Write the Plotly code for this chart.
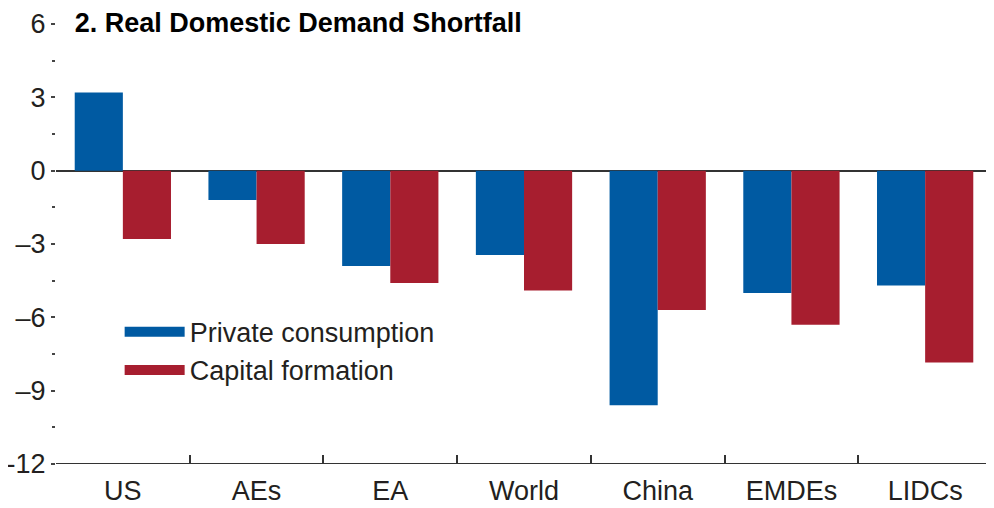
import plotly.graph_objects as go

categories = ["US", "AEs", "EA", "World", "China", "EMDEs", "LIDCs"]
private_consumption = [3.2, -1.2, -3.9, -3.45, -9.6, -5.0, -4.7]
capital_formation = [-2.8, -3.0, -4.6, -4.9, -5.7, -6.3, -7.85]
y_tickvals = [6, 3, 0, -3, -6, -9, -12]
y_ticktext = ["6", "3", "0", "–3", "–6", "–9", "-12"]

BLUE = "#005AA2"
RED = "#A71E2F"
FONT = "Liberation Sans, Arial, sans-serif"
TXT = "#231F20"

fig = go.Figure()
fig.add_trace(go.Bar(x=categories, y=private_consumption, marker=dict(color=BLUE, line_width=0),
                     name="Private consumption", showlegend=False, legendgroup="pc"))
fig.add_trace(go.Bar(x=categories, y=capital_formation, marker=dict(color=RED, line_width=0),
                     name="Capital formation", showlegend=False, legendgroup="cf"))
# legend entries with wide swatches
fig.add_trace(go.Scatter(x=[None], y=[None], mode="lines", line=dict(color=BLUE, width=14),
                         name="Private consumption", legendgroup="pc"))
fig.add_trace(go.Scatter(x=[None], y=[None], mode="lines", line=dict(color=RED, width=14),
                         name="Capital formation", legendgroup="cf"))

fig.update_layout(
    width=994, height=508,
    margin=dict(l=48, r=10, t=16, b=52, autoexpand=False),
    paper_bgcolor="white", plot_bgcolor="white",
    barmode="group", bargap=0.28, bargroupgap=0,
    font=dict(family=FONT, size=27, color=TXT),
    title=dict(text="<b>2. Real Domestic Demand Shortfall</b>", x=0.02, xref="paper", xanchor="left",
               y=1 - 15 / 508, yanchor="middle", font=dict(family=FONT, size=27, color="#000")),
    legend=dict(x=0.068, y=0.355, xanchor="left", yanchor="top", bgcolor="rgba(0,0,0,0)",
                itemwidth=60, font=dict(size=27, color=TXT), tracegroupgap=0),
    xaxis=dict(type="category", tickson="boundaries", ticks="inside", ticklen=9, tickwidth=1.5,
               tickcolor="#333", showline=False, showgrid=False, zeroline=False,
               tickfont=dict(size=27, color=TXT), automargin=False, ticklabelstandoff=8),
    yaxis=dict(range=[-12, 6], tickvals=y_tickvals, ticktext=y_ticktext, ticks="outside",
               ticklen=4, tickwidth=2, tickcolor="#444", showgrid=False, showline=False,
               zeroline=True, zerolinecolor="#333", zerolinewidth=1.5, mirror="ticks",
               minor=dict(dtick=1.5, tick0=0, ticks="outside", ticklen=3, tickwidth=2, tickcolor="#444"),
               tickfont=dict(size=27, color=TXT), automargin=False),
)
fig.add_hline(y=-12, line=dict(color="#333", width=2))

fig.write_html("out.html")
